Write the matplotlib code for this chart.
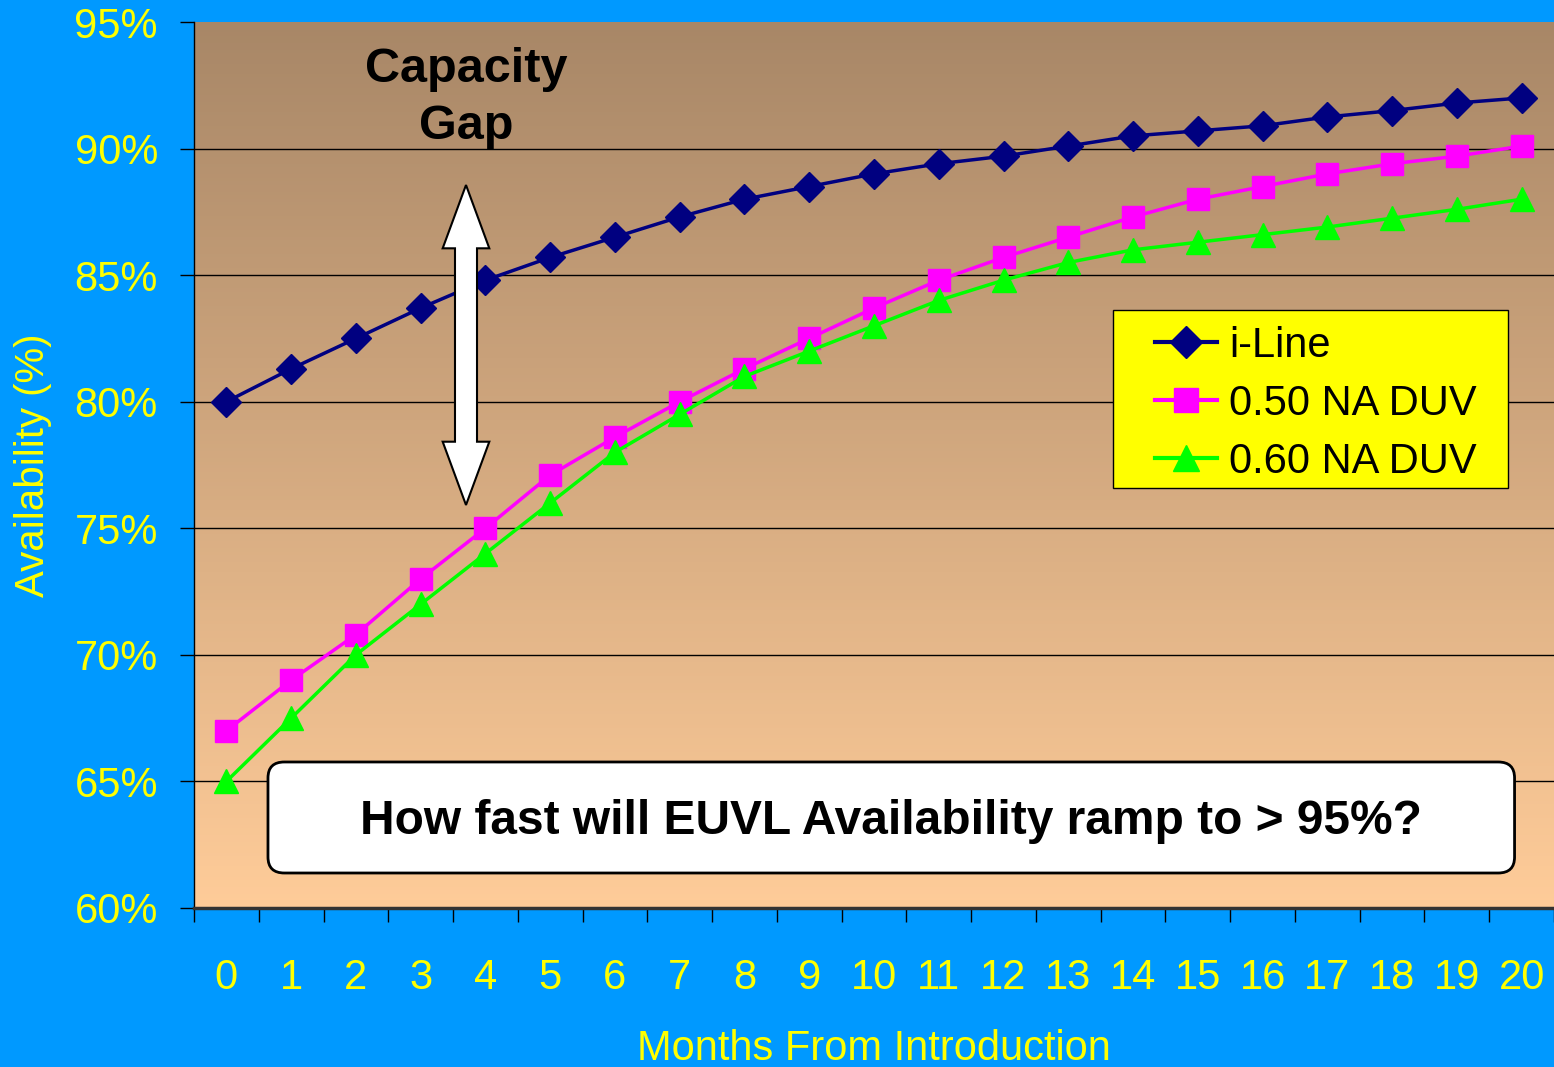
import numpy as np
import matplotlib
matplotlib.use("Agg")
import matplotlib.pyplot as plt
from matplotlib.patches import FancyBboxPatch, Polygon, Rectangle
from matplotlib.colors import LinearSegmentedColormap

plt.rcParams['font.family'] = ['Liberation Sans', 'DejaVu Sans']

months = list(range(21))
i_line = [80.0, 81.3, 82.5, 83.7, 84.8, 85.7, 86.5, 87.3, 88.0, 88.5, 89.0,
          89.4, 89.7, 90.1, 90.5, 90.7, 90.9, 91.25, 91.5, 91.8, 92.0]
na050 = [67.0, 69.0, 70.8, 73.0, 75.0, 77.1, 78.6, 80.0, 81.3, 82.5, 83.7,
         84.8, 85.7, 86.5, 87.3, 88.0, 88.5, 89.0, 89.4, 89.7, 90.1]
na060 = [65.0, 67.5, 70.0, 72.0, 74.0, 76.0, 78.0, 79.5, 81.0, 82.0, 83.0,
         84.0, 84.8, 85.5, 86.0, 86.3, 86.6, 86.9, 87.25, 87.6, 88.0]
series_names = ['i-Line', '0.50 NA DUV', '0.60 NA DUV']

BG = '#0099FF'
YEL = '#FFFF00'

fig = plt.figure(figsize=(15.54, 10.67), dpi=100, facecolor=BG)
ax = fig.add_axes([194 / 1554, 159 / 1067, 1360 / 1554, 886 / 1067])

# gradient background of the plot area
cmap = LinearSegmentedColormap.from_list('bg', ['#FFCC99', '#A88767'])
grad = np.linspace(0, 1, 256).reshape(-1, 1)
ax.imshow(grad, cmap=cmap, aspect='auto', extent=[0, 1, 0, 1],
          transform=ax.transAxes, origin='lower', zorder=0)

ax.set_xlim(-0.5, 20.5)
ax.set_ylim(60, 95)

# grid lines
for y in range(65, 95, 5):
    ax.axhline(y, color='black', lw=1, zorder=1)

ax.plot(months, i_line, color='#000080', lw=2.5, marker='D', ms=15,
        label=series_names[0], zorder=4)
ax.plot(months, na050, color='#FF00FF', lw=2.5, marker='s', ms=16,
        label=series_names[1], zorder=3)
ax.plot(months, na060, color='#00FF00', lw=2.5, marker='^', ms=17,
        label=series_names[2], zorder=3)

# axes styling
for s in ['top', 'right']:
    ax.spines[s].set_visible(False)
ax.spines['left'].set_color('black')
ax.spines['left'].set_linewidth(1)
ax.spines['bottom'].set_color('#333333')
ax.spines['bottom'].set_linewidth(2.5)

ax.set_yticks(range(60, 96, 5))
ax.set_yticklabels([f'{v}%' for v in range(60, 96, 5)])
ax.tick_params(axis='y', length=10, width=1, color='black', pad=16,
               labelsize=30, labelcolor=YEL)

ax.set_xticks(np.arange(-0.5, 20.6, 1))
ax.set_xticklabels([])
ax.tick_params(axis='x', which='major', length=10, width=1, color='black')
ax.set_xticks(months, minor=True)
ax.set_xticklabels([str(m) for m in months], minor=True)
ax.tick_params(axis='x', which='minor', length=0, pad=36, labelsize=30,
               labelcolor=YEL)

ax.set_xlabel('Months From Introduction', fontsize=30, color=YEL, labelpad=22)
ax.set_ylabel('Availability (%)', fontsize=29, color=YEL, labelpad=16)

# legend: yellow frame drawn separately so the inner padding can match
ax.add_patch(Rectangle((0.676, 0.474), 0.290, 0.201, transform=ax.transAxes,
                       facecolor=YEL, edgecolor='black', lw=1, zorder=7))
leg = ax.legend(loc='upper left', bbox_to_anchor=(0.7066, 0.657),
                fontsize=30, frameon=False, handlelength=1.5,
                handletextpad=0.28, borderpad=0, labelspacing=0.43,
                borderaxespad=0, markerscale=1.1)
leg.set_zorder(8)
for t in leg.get_texts():
    t.set_color('black')
for h in leg.legend_handles:
    h.set_linewidth(3)

# capacity gap annotation
ax.text(3.7, 92.0, 'Capacity\nGap', ha='center', va='center', fontsize=35,
        fontweight='bold', color='black', linespacing=1.35, zorder=6)

xc, ytop, ybot = 3.7, 88.56, 75.92
hw, sw, hl = 0.36, 0.17, 2.5
arrow = Polygon([(xc, ytop), (xc + hw, ytop - hl), (xc + sw, ytop - hl),
                 (xc + sw, ybot + hl), (xc + hw, ybot + hl), (xc, ybot),
                 (xc - hw, ybot + hl), (xc - sw, ybot + hl), (xc - sw, ytop - hl),
                 (xc - hw, ytop - hl)], closed=True, facecolor='white',
                edgecolor='black', lw=1.5, zorder=6)
ax.add_patch(arrow)

box = FancyBboxPatch((0.0544, 0.0395), 0.9166, 0.1253,
                     boxstyle='round,pad=0,rounding_size=0.012',
                     transform=ax.transAxes, facecolor='white',
                     edgecolor='black', lw=2, zorder=6, mutation_aspect=1.5)
ax.add_patch(box)
ax.text(0.5128, 0.0975, 'How fast will EUVL Availability ramp to > 95%?',
        transform=ax.transAxes, ha='center', va='center', fontsize=34.5,
        fontweight='bold', color='black', zorder=7)

fig.savefig('out.png', dpi=100, facecolor=BG)
